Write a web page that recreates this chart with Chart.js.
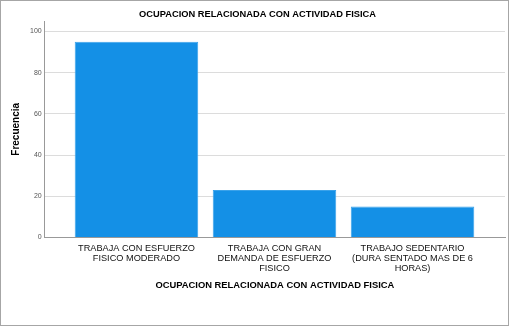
<!DOCTYPE html>
<html lang="es">
<head>
    <meta charset="UTF-8">
    <title>Ocupacion relacionada con actividad fisica</title>
    <script src="https://cdn.jsdelivr.net/npm/chart.js"></script>
    <style>
        html, body { margin: 0; padding: 0; background: #fff; }
        .frame { width: 507px; height: 324px; border: 1px solid #a6a6a6; position: relative; }
        canvas { display: block; }
    </style>
</head>
<body>
    <div class="frame">
        <canvas id="chart" width="507" height="324"></canvas>
    </div>

    <script>
        // Data
        const categories = [
            ['TRABAJA CON ESFUERZO', 'FISICO MODERADO'],
            ['TRABAJA CON GRAN', 'DEMANDA DE ESFUERZO', 'FISICO'],
            ['TRABAJO SEDENTARIO', '(DURA SENTADO MAS DE 6', 'HORAS)']
        ];
        const frecuencia = [95, 23, 15];
        const yTicks = [0, 20, 40, 60, 80, 100];

        const FONT = "'Liberation Sans', Arial, sans-serif";

        new Chart(document.getElementById('chart'), {
            type: 'bar',
            data: {
                datasets: [{
                    label: 'Frecuencia',
                    data: frecuencia.map((v, i) => ({ x: i, y: v })),
                    backgroundColor: '#1490e6',
                    borderColor: '#3aa2ea',
                    borderWidth: 1,
                    barPercentage: 0.895,
                    categoryPercentage: 1
                }]
            },
            options: {
                responsive: false,
                animation: false,
                layout: { padding: { top: 4, right: 3, bottom: 30, left: 9 } },
                plugins: {
                    legend: { display: false },
                    tooltip: { enabled: false },
                    title: {
                        display: true,
                        text: 'OCUPACION RELACIONADA CON ACTIVIDAD FISICA',
                        color: '#000',
                        font: { family: FONT, size: 9.3, weight: 'bold' },
                        padding: { top: 4, bottom: 1 }
                    }
                },
                scales: {
                    x: {
                        type: 'linear',
                        offset: false,
                        min: -0.665,
                        max: 2.67,
                        afterBuildTicks: s => { s.ticks = categories.map((_, i) => ({ value: i })); },
                        ticks: {
                            callback: v => categories[v],
                            color: '#111',
                            font: { family: FONT, size: 9.2, lineHeight: 1.08 },
                            padding: 6,
                            maxRotation: 0,
                            autoSkip: false
                        },
                        grid: { display: false, drawTicks: false },
                        border: { color: '#999', width: 1 },
                        title: {
                            display: true,
                            text: 'OCUPACION RELACIONADA CON ACTIVIDAD FISICA',
                            color: '#000',
                            font: { family: FONT, size: 9.4, weight: 'bold' },
                            padding: { top: 0.5 }
                        }
                    },
                    y: {
                        min: 0,
                        max: 105,
                        afterBuildTicks: s => { s.ticks = yTicks.map(v => ({ value: v })); },
                        ticks: {
                            color: '#555',
                            font: { family: FONT, size: 7 },
                            padding: 3
                        },
                        grid: {
                            color: '#dcdcdc',
                            lineWidth: 1,
                            drawTicks: false
                        },
                        border: { color: '#999', width: 1 },
                        title: {
                            display: true,
                            text: 'Frecuencia',
                            color: '#000',
                            font: { family: FONT, size: 10, weight: 'bold' },
                            padding: { top: 0, bottom: 5 }
                        }
                    }
                }
            }
        });
    </script>
</body>
</html>
